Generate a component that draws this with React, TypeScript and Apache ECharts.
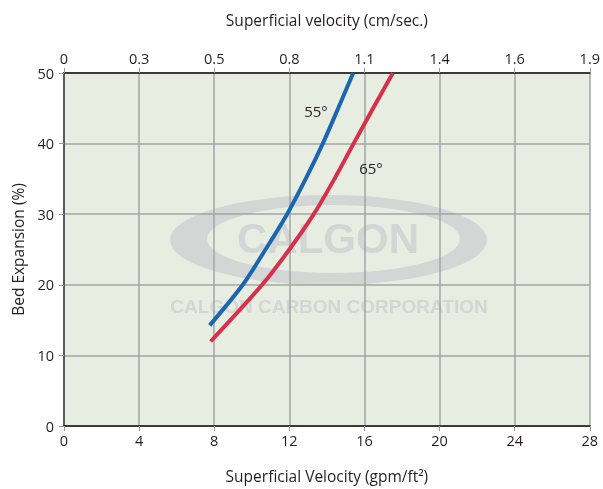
import React, { useEffect, useRef } from "react";
import * as echarts from "echarts";

// Superficial velocity (gpm/ft²) vs bed expansion (%)
const gpmTicks = [0, 4, 8, 12, 16, 20, 24, 28];
const cmSecLabels = ["0", "0.3", "0.5", "0.8", "1.1", "1.4", "1.6", "1.9"];
const bedTicks = [0, 10, 20, 30, 40, 50];

const series55Name = "55°";
const series55 = [
  [7.76, 14.25],
  [9.52, 20],
  [10.73, 25],
  [11.88, 30],
  [12.87, 35],
  [13.78, 40],
  [14.6, 45],
  [15.4, 50],
];

const series65Name = "65°";
const series65 = [
  [7.81, 11.97],
  [10.55, 20],
  [12.0, 25],
  [13.3, 30],
  [14.4, 35],
  [15.42, 40],
  [16.46, 45],
  [17.51, 50],
];

const topTitle = "Superficial velocity (cm/sec.)";
const bottomTitle = "Superficial Velocity (gpm/ft²)";
const leftTitle = "Bed Expansion (%)";
const watermarkMain = "CALGON";
const watermarkSub = "CALGON CARBON CORPORATION";

function ellipsePath(cx: number, cy: number, rx: number, ry: number, sweep: number) {
  return (
    `M ${cx - rx} ${cy} A ${rx} ${ry} 0 1 ${sweep} ${cx + rx} ${cy} ` +
    `A ${rx} ${ry} 0 1 ${sweep} ${cx - rx} ${cy} Z `
  );
}

let registered = false;
function registerRing() {
  if (registered) return;
  registered = true;
  const d = ellipsePath(328.5, 240, 158.5, 45, 1) + ellipsePath(333.5, 239, 126.5, 34, 0);
  echarts.graphic.registerShape("calgonRing", echarts.graphic.extendPath(d, {}) as any);
}

const FONT = "'Open Sans', 'Noto Sans', sans-serif";
const TEXT = "#231f20";
const WM = "rgba(160,162,182,0.3)";

export default function App() {
  const ref = useRef<HTMLDivElement>(null);
  useEffect(() => {
    if (!ref.current) return;
    registerRing();
    const chart = echarts.init(ref.current, undefined, { renderer: "svg" });
    const gpmMin = gpmTicks[0];
    const gpmMax = gpmTicks[gpmTicks.length - 1];
    const gpmStep = gpmTicks[1] - gpmTicks[0];
    const bedStep = bedTicks[1] - bedTicks[0];
    const splitLine = { show: true, lineStyle: { color: "#a4a4a4", width: 1.5 } };
    const tick = { show: true, inside: false, length: 5, lineStyle: { color: "#999", width: 1 } };
    const label = { color: TEXT, fontSize: 14.5, fontFamily: FONT };
    const nameStyle = { color: TEXT, fontSize: 15.5, fontFamily: FONT };
    chart.setOption({
      animation: false,
      grid: {
        left: 64,
        right: 9,
        top: 73,
        bottom: 58,
        show: true,
        backgroundColor: "#e8ede2",
        borderWidth: 0,
      },
      xAxis: [
        {
          type: "value",
          position: "bottom",
          min: gpmMin,
          max: gpmMax,
          interval: gpmStep,
          axisLine: { show: true, onZero: false, lineStyle: { color: "#3a3a3a", width: 2 } },
          axisTick: tick,
          axisLabel: { ...label, margin: 7 },
          splitLine,
          name: bottomTitle,
          nameLocation: "middle",
          nameGap: 42,
          nameTextStyle: nameStyle,
        },
        {
          type: "value",
          position: "top",
          min: gpmMin,
          max: gpmMax,
          interval: gpmStep,
          axisLine: { show: true, onZero: false, lineStyle: { color: "#3a3a3a", width: 2 } },
          axisTick: tick,
          axisLabel: {
            ...label,
            margin: 7,
            formatter: (v: number) => cmSecLabels[Math.round((v - gpmMin) / gpmStep)] ?? "",
          },
          splitLine: { show: false },
          name: topTitle,
          nameLocation: "middle",
          nameGap: 45,
          nameTextStyle: nameStyle,
        },
      ],
      yAxis: {
        type: "value",
        min: bedTicks[0],
        max: bedTicks[bedTicks.length - 1],
        interval: bedStep,
        axisLine: { show: true, onZero: false, lineStyle: { color: "#3a3a3a", width: 1.5 } },
        axisTick: tick,
        axisLabel: { ...label, margin: 10 },
        splitLine,
        name: leftTitle,
        nameLocation: "middle",
        nameGap: 38,
        nameTextStyle: nameStyle,
      },
      graphic: [
        {
          type: "calgonRing",
          x: 0,
          y: 0,
          z: 1,
          silent: true,
          style: { fill: WM },
        },
        {
          type: "text",
          x: 328,
          y: 238,
          z: 1,
          silent: true,
          style: {
            text: watermarkMain,
            fill: WM,
            font: "bold 42px 'Liberation Sans', Arial, sans-serif",
            align: "center",
            verticalAlign: "middle",
          },
        },
        {
          type: "text",
          x: 329,
          y: 306,
          z: 1,
          silent: true,
          style: {
            text: watermarkSub,
            fill: WM,
            font: "bold 19px 'Liberation Sans', Arial, sans-serif",
            align: "center",
            verticalAlign: "middle",
          },
        },
        {
          type: "text",
          x: 316,
          y: 111,
          z: 5,
          style: {
            text: series55Name,
            fill: TEXT,
            font: `15px ${FONT}`,
            align: "center",
            verticalAlign: "middle",
          },
        },
        {
          type: "text",
          x: 371,
          y: 168,
          z: 5,
          style: {
            text: series65Name,
            fill: TEXT,
            font: `15px ${FONT}`,
            align: "center",
            verticalAlign: "middle",
          },
        },
      ],
      series: [
        {
          name: series55Name,
          type: "line",
          data: series55,
          smooth: 0.3,
          showSymbol: false,
          symbol: "none",
          z: 3,
          lineStyle: { color: "#1a66b2", width: 4, cap: "butt" },
        },
        {
          name: series65Name,
          type: "line",
          data: series65,
          smooth: 0.3,
          showSymbol: false,
          symbol: "none",
          z: 3,
          lineStyle: { color: "#d8304a", width: 4, cap: "butt" },
        },
      ],
    });
    return () => chart.dispose();
  }, []);
  return (
    <div
      ref={ref}
      style={{ position: "fixed", left: 0, top: 0, width: 603, height: 489 }}
    />
  );
}
